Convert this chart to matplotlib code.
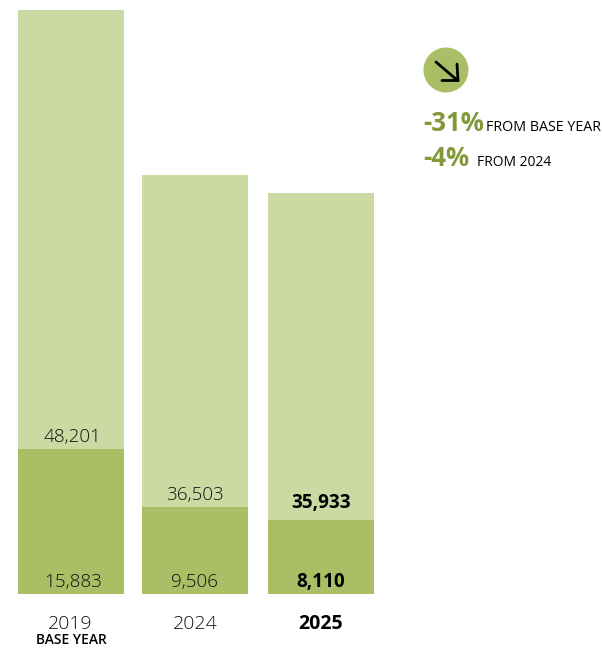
import matplotlib
matplotlib.use("Agg")
import matplotlib.pyplot as plt
from matplotlib.patches import Circle

years = ["2019", "2024", "2025"]
lower_values = [15883, 9506, 8110]
upper_values = [48201, 36503, 35933]
lower_labels = ["15,883", "9,506", "8,110"]
upper_labels = ["48,201", "36,503", "35,933"]
change_values = ["-31%", "-4%"]
change_labels = ["FROM BASE YEAR", "FROM 2024"]

W, H = 602, 648
DARK = "#A9BE65"
LIGHT = "#CBD9A2"
OLIVE = "#83983A"
TEXT = "#111111"

plt.rcParams["font.family"] = ["Open Sans", "DejaVu Sans"]

fig = plt.figure(figsize=(W / 100, H / 100), dpi=100)

# bars sit on y=594px, tallest one reaches y=10px
ax = fig.add_axes([0, (H - 594) / H, 1, 584 / H])
centers = [71, 195, 321]
bar_w = 106
ax.bar(centers, lower_values, width=bar_w, color=DARK, linewidth=0)
ax.bar(centers, upper_values, width=bar_w, bottom=lower_values, color=LIGHT, linewidth=0)
ax.set_xlim(0, W)
ax.set_ylim(0, lower_values[0] + upper_values[0])
ax.axis("off")

# overlay in pixel coordinates for text and the arrow badge
ov = fig.add_axes([0, 0, 1, 1])
ov.set_xlim(0, W)
ov.set_ylim(H, 0)
ov.axis("off")
ov.patch.set_alpha(0)


def px_text(x, y, s, size, weight="light", color=TEXT, ha="center"):
    return ov.text(x, y, s, fontsize=size, fontweight=weight, color=color,
                   ha=ha, va="baseline")


low_x = [73, 195, 321]
up_x = [73, 195, 321]
up_y = [442, 500, 508]
year_x = [70, 195, 321]
for i in range(3):
    w = "bold" if i == 2 else "light"
    col = "black" if i == 2 else TEXT
    px_text(low_x[i], 587, lower_labels[i], 13.6, w, col)
    px_text(up_x[i], up_y[i], upper_labels[i], 13.6, w, col)
    px_text(year_x[i], 629, years[i], 14, w, col)

px_text(71, 644, "BASE YEAR", 10, 600, "black")

# badge with down-right arrow
ov.add_patch(Circle((446, 70), 22.5, color=DARK, linewidth=0))
ov.plot([436, 457], [62, 80], color="black", lw=2, solid_capstyle="round")
ov.plot([442, 458, 457], [80.5, 80.5, 64], color="black", lw=2,
        solid_capstyle="round", solid_joinstyle="miter")

# change figures beside the bars
px_text(423, 131, change_values[0], 18.5, "bold", OLIVE, "left")
px_text(486, 131, change_labels[0], 10.3, "normal", "black", "left")
px_text(423, 166, change_values[1], 18.5, "bold", OLIVE, "left")
px_text(477, 166, change_labels[1], 10, "normal", "black", "left")

fig.savefig("out.png", dpi=100, facecolor="white")
